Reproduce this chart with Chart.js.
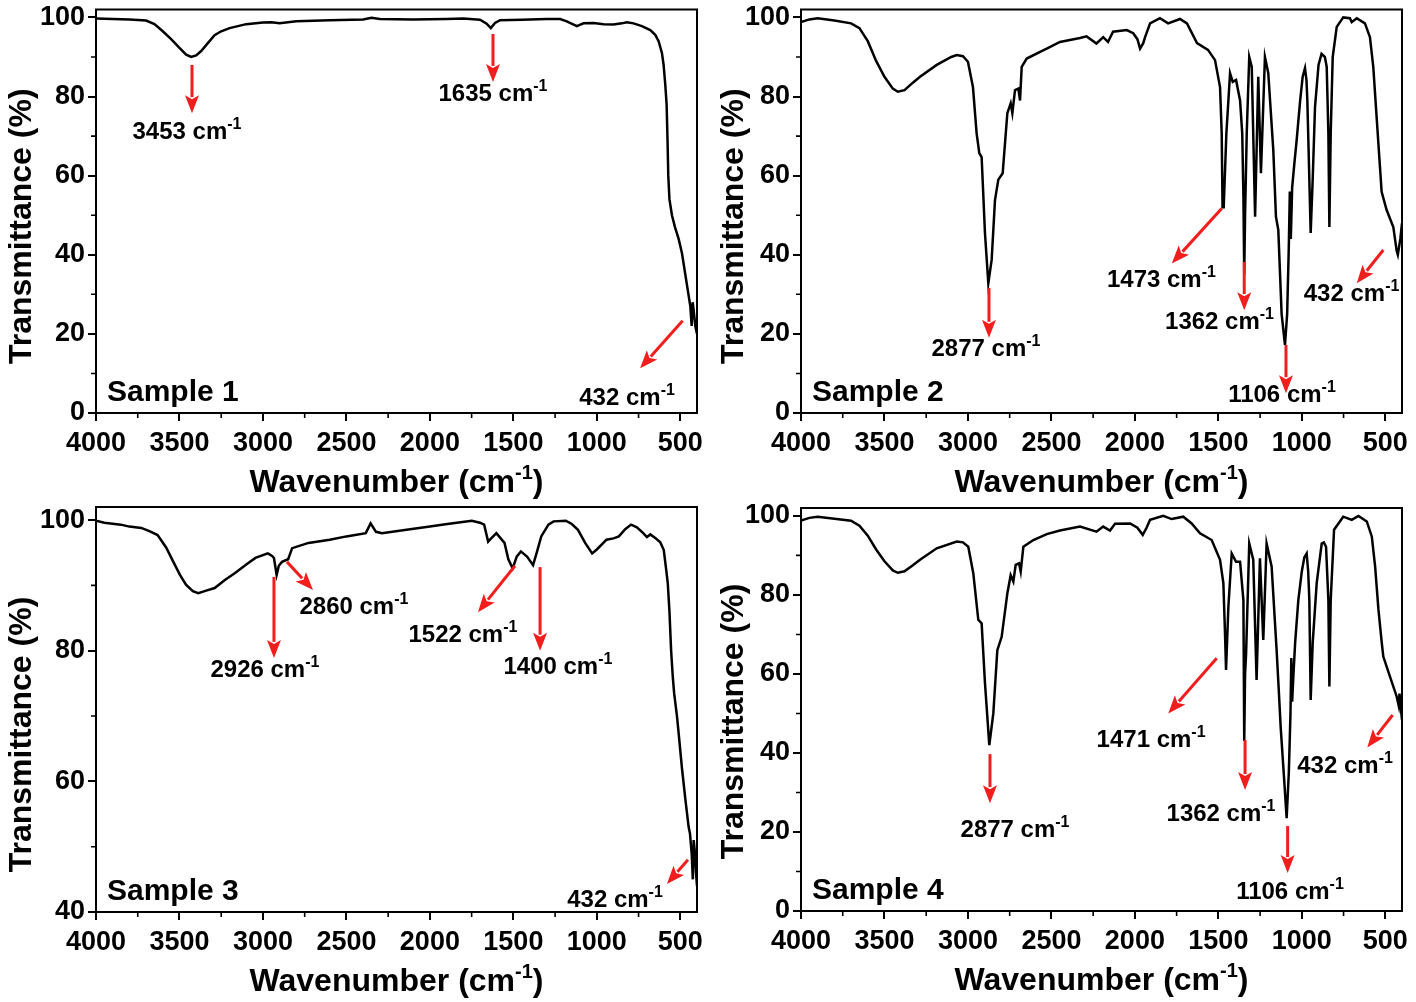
<!DOCTYPE html>
<html>
<head>
<meta charset="utf-8">
<script src="https://cdn.jsdelivr.net/npm/chart.js@4.4.1/dist/chart.umd.min.js"></script>
<style>
html,body{margin:0;padding:0;background:#fff;width:1416px;height:1002px;overflow:hidden}
.p{position:absolute;width:708px;height:501px}
canvas{display:block}
</style>
</head>
<body>
<div class="p" style="left:0;top:0"><canvas id="c1" width="708" height="501"></canvas></div>
<div class="p" style="left:708px;top:0"><canvas id="c2" width="708" height="501"></canvas></div>
<div class="p" style="left:0;top:501px"><canvas id="c3" width="708" height="501"></canvas></div>
<div class="p" style="left:708px;top:501px"><canvas id="c4" width="708" height="501"></canvas></div>
<script>
// ---------------- DATA ----------------
const xMajorTicks = [500,1000,1500,2000,2500,3000,3500,4000];
const xMinorTicks = [750,1250,1750,2250,2750,3250,3750];
const yMajorTicksFull = [0,20,40,60,80,100];
const yMinorTicksFull = [10,30,50,70,90];
const yMajorTicksS3 = [40,60,80,100];
const yMinorTicksS3 = [50,70,90];

const sample1Wavenumber = [4000,3900,3800,3700,3650,3600,3550,3500,3460,3430,3400,3370,3330,3290,3250,3200,3100,3000,2950,2900,2800,2600,2400,2350,2300,2100,1900,1800,1700,1660,1635,1610,1580,1450,1300,1220,1180,1120,1080,1020,960,900,850,820,780,730,680,650,630,610,600,590,582,576,572,565,550,532,510,490,470,455,440,432,426,420,410,400];
const sample1Transmittance = [99.7,99.6,99.5,99.2,98.3,96.5,94.5,92.3,90.6,90.0,90.4,91.5,93.5,95.5,96.5,97.3,98.3,98.7,98.8,98.5,99.0,99.3,99.5,99.9,99.6,99.5,99.6,99.7,99.4,98.4,97.3,98.6,99.3,99.4,99.6,99.6,99.0,97.8,98.5,98.6,98.3,98.2,98.5,98.8,98.5,97.8,96.8,95.6,94.0,91.0,88.0,83.0,78.0,68.0,60.0,54.0,50.0,47.0,44.0,40.4,35.0,31.0,27.0,22.0,28.0,26.0,22.0,20.0];

const sample2Wavenumber = [4000,3950,3900,3800,3700,3650,3600,3550,3500,3450,3420,3380,3330,3287,3187,3100,3067,3030,3000,2970,2948,2932,2918,2898,2878,2858,2838,2818,2792,2764,2744,2734,2718,2698,2688,2678,2648,2568,2528,2449,2329,2289,2230,2190,2161,2131,2049,2010,1985,1969,1950,1939,1909,1850,1801,1730,1688,1628,1562,1520,1490,1480,1475,1468,1452,1430,1414,1394,1370,1357,1350,1345,1340,1330,1315,1300,1280,1261,1245,1221,1201,1171,1155,1141,1121,1101,1088,1078,1072,1066,1058,1045,1031,1010,995,981,972,967,955,947,935,921,900,882,862,851,841,835,827,815,791,752,712,701,671,622,592,572,552,532,522,492,452,432,425,410,400];
const sample2Transmittance = [98.8,99.5,99.8,99.2,98.5,97.3,94.0,89.0,85.0,82.0,81.2,81.6,83.5,85.0,88.0,90.0,90.5,90.2,88.8,82.4,70.7,65.7,64.7,45.5,32.8,38.7,53.8,59.0,60.6,75.8,78.3,75.8,81.6,82.0,79.0,87.5,89.6,91.3,92.1,93.8,94.8,95.2,93.4,95.0,93.8,96.4,96.8,96.0,94.5,92.1,93.5,95.0,98.5,99.8,98.5,99.6,98.5,93.5,91.8,89.2,82.4,70.7,52.0,52.0,70.7,85.9,83.7,84.2,79.0,70.7,55.0,35.0,50.0,70.7,90.0,87.5,49.6,85.0,60.6,90.0,85.9,66.5,49.6,46.3,25.0,17.2,25.0,42.0,56.0,44.0,57.0,63.0,69.0,79.0,85.0,87.2,84.0,79.0,59.0,45.5,59.0,77.4,88.0,90.8,90.0,87.5,70.7,47.0,70.7,90.0,97.6,100.0,99.8,98.8,99.8,98.5,95.0,87.5,74.8,62.2,55.9,51.3,47.0,41.0,40.0,44.0,48.0];

const sample3Wavenumber = [4000,3950,3851,3800,3729,3680,3631,3580,3533,3497,3461,3420,3387,3340,3289,3230,3167,3100,3045,2971,2945,2934,2918,2905,2886,2849,2825,2727,2600,2500,2384,2355,2323,2287,2140,2000,1896,1749,1700,1675,1651,1640,1602,1553,1530,1504,1480,1455,1418,1382,1360,1333,1290,1259,1186,1150,1113,1070,1028,1000,942,900,868,830,795,760,722,700,680,648,620,599,585,575,565,555,545,537,520,510,490,469,450,442,432,425,420,412,406,400];
const sample3Transmittance = [99.9,99.6,99.3,99.0,98.8,98.3,97.7,95.8,93.4,91.6,90.1,89.1,88.8,89.2,89.6,90.8,91.9,93.2,94.2,94.9,94.5,94.2,91.6,93.0,93.6,94.0,95.7,96.5,97.0,97.5,98.0,99.5,98.2,98.0,98.5,99.0,99.4,99.9,99.6,99.3,96.7,97.0,98.0,96.5,94.0,92.6,94.4,95.2,94.4,93.1,95.0,97.5,99.3,99.8,99.9,99.4,98.5,96.5,94.9,95.5,97.0,97.2,97.5,98.6,99.3,98.9,98.0,97.4,97.8,97.2,96.6,95.4,92.5,90.3,86.0,80.0,76.0,73.5,70.0,67.4,62.0,57.1,53.0,52.0,49.0,45.0,51.0,49.0,46.0,44.0];

const sample4Wavenumber = [4000,3950,3900,3800,3700,3650,3600,3550,3500,3450,3420,3380,3330,3287,3187,3067,3030,2998,2968,2938,2918,2898,2872,2848,2824,2798,2764,2744,2728,2714,2694,2684,2668,2608,2528,2449,2329,2230,2190,2149,2119,2029,1985,1953,1930,1909,1830,1780,1710,1660,1610,1540,1490,1470,1460,1454,1440,1420,1394,1370,1350,1345,1340,1334,1315,1291,1271,1251,1231,1211,1181,1151,1137,1127,1107,1091,1078,1068,1063,1058,1050,1040,1021,1000,985,971,962,955,947,935,911,881,868,855,841,835,827,807,752,701,661,611,581,561,541,521,512,472,432,420,415,408,400];
const sample4Transmittance = [98.8,99.5,99.8,99.3,98.8,97.5,95.0,91.5,88.5,86.2,85.6,86.0,87.5,88.9,91.8,93.5,93.3,92.2,85.5,73.7,72.8,57.7,42.0,50.0,66.0,69.4,80.4,85.0,83.4,87.6,88.0,85.9,92.2,93.9,95.4,96.3,97.3,96.0,97.3,96.3,98.0,98.1,97.0,95.2,97.0,99.0,100.0,99.2,99.8,98.1,95.6,93.9,88.9,83.0,70.0,61.0,77.0,90.5,88.4,88.4,78.7,43.0,60.0,65.0,93.0,88.9,58.5,89.3,68.6,93.0,87.2,66.0,55.0,46.7,34.0,23.5,35.0,50.0,64.0,53.0,60.0,68.0,78.7,86.0,89.5,90.5,86.0,78.7,53.4,67.8,83.0,93.0,93.3,92.2,78.7,56.8,78.7,96.5,99.8,99.0,100.0,98.6,94.8,87.2,76.2,67.8,64.4,59.3,54.3,52.0,55.0,51.7,48.4];

// peak annotations: arrow tail (x0,y0) -> head (x1,y1), label centre (lx,ly), in data units
const peaks1 = [
  {label:'3453', x0:3425, y0:88.0, x1:3425, y1:75.8, lx:3455, ly:71.5},
  {label:'1635', x0:1622, y0:95.8, x1:1622, y1:83.7, lx:1622, ly:81.1},
  {label:'432',  x0:486,  y0:23.3, x1:741,  y1:11.3, lx:819,  ly:4.3}
];
const peaks2 = [
  {label:'2877', x0:2874, y0:31.6, x1:2874, y1:19.0, lx:2892, ly:16.7},
  {label:'1473', x0:1480, y0:51.7, x1:1779, y1:37.8, lx:1841, ly:34.1},
  {label:'1362', x0:1345, y0:38.2, x1:1345, y1:26.0, lx:1493, ly:23.5},
  {label:'1106', x0:1095, y0:17.2, x1:1095, y1:5.0,  lx:1119, ly:5.1},
  {label:'432',  x0:512,  y0:41.2, x1:671,  y1:32.8, lx:702,  ly:30.6}
];
const peaks3 = [
  {label:'2926', x0:2934, y0:91.3, x1:2934, y1:78.9, lx:2988, ly:77.4},
  {label:'2860', x0:2856, y0:93.6, x1:2700, y1:89.3, lx:2455, ly:87.0},
  {label:'1522', x0:1490, y0:93.0, x1:1712, y1:85.9, lx:1802, ly:82.7},
  {label:'1400', x0:1340, y0:92.8, x1:1340, y1:80.0, lx:1233, ly:77.8},
  {label:'432',  x0:454,  y0:48.0, x1:580,  y1:44.3, lx:891,  ly:42.1}
];
const peaks4 = [
  {label:'2877', x0:2868, y0:39.7, x1:2868, y1:27.3, lx:2718, ly:21.0},
  {label:'1471', x0:1510, y0:64.0, x1:1800, y1:50.0, lx:1903, ly:43.8},
  {label:'1362', x0:1340, y0:43.3, x1:1340, y1:30.6, lx:1484, ly:25.1},
  {label:'1106', x0:1085, y0:21.5, x1:1085, y1:9.6,  lx:1071, ly:5.3},
  {label:'432',  x0:456,  y0:49.6, x1:608,  y1:41.4, lx:741,  ly:37.2}
];

// ---------------- DRAWING ----------------
const FONT = '"Liberation Sans", Arial, Helvetica, sans-serif';
const RED = '#f21d1d';

function supText(ctx, main, sup, tail, x, y, size, supSize, align) {
  ctx.font = 'bold ' + size + 'px ' + FONT;
  const w1 = ctx.measureText(main).width;
  const w3 = tail ? ctx.measureText(tail).width : 0;
  ctx.font = 'bold ' + supSize + 'px ' + FONT;
  const w2 = ctx.measureText(sup).width;
  const total = w1 + w2 + w3;
  let sx = align === 'center' ? x - total / 2 : x;
  ctx.textAlign = 'left';
  ctx.textBaseline = 'alphabetic';
  ctx.font = 'bold ' + size + 'px ' + FONT;
  ctx.fillText(main, sx, y);
  ctx.font = 'bold ' + supSize + 'px ' + FONT;
  ctx.fillText(sup, sx + w1, y - size * 0.42);
  if (tail) {
    ctx.font = 'bold ' + size + 'px ' + FONT;
    ctx.fillText(tail, sx + w1 + w2, y);
  }
}

function arrow(ctx, x0, y0, x1, y1) {
  const dx = x1 - x0, dy = y1 - y0, len = Math.hypot(dx, dy);
  const ux = dx / len, uy = dy / len;
  const hl = 18, hw = 7;
  const bx = x1 - ux * hl, by = y1 - uy * hl;
  ctx.strokeStyle = RED; ctx.fillStyle = RED; ctx.lineWidth = 3; ctx.lineCap = 'butt';
  ctx.beginPath(); ctx.moveTo(x0, y0); ctx.lineTo(bx + ux * 2, by + uy * 2); ctx.stroke();
  ctx.beginPath();
  ctx.moveTo(x1, y1);
  ctx.lineTo(bx - uy * hw, by + ux * hw);
  ctx.lineTo(bx + ux * 4, by + uy * 4);
  ctx.lineTo(bx + uy * hw, by - ux * hw);
  ctx.closePath(); ctx.fill();
}

function makePlugin(cfg) {
  return {
    id: 'ftir_' + cfg.id,
    afterDraw(chart) {
      const ctx = chart.ctx, a = chart.chartArea, xs = chart.scales.x, ys = chart.scales.y;
      ctx.save();
      // frame
      ctx.strokeStyle = '#000'; ctx.lineWidth = 2;
      ctx.strokeRect(a.left, a.top, a.right - a.left, a.bottom - a.top);
      // minor ticks
      ctx.lineWidth = 1.6;
      ctx.beginPath();
      xMinorTicks.forEach(v => { const px = xs.getPixelForValue(v); ctx.moveTo(px, a.bottom); ctx.lineTo(px, a.bottom + 5); });
      cfg.yMinor.forEach(v => { const py = ys.getPixelForValue(v); ctx.moveTo(a.left, py); ctx.lineTo(a.left - 5, py); });
      ctx.stroke();
      // axis titles
      ctx.fillStyle = '#000';
      supText(ctx, 'Wavenumber (cm', '-1', ')', (a.left + a.right) / 2, a.bottom + 79, 32, 20, 'center');
      ctx.save();
      ctx.translate(cfg.titleX, (a.top + a.bottom) / 2 + cfg.titleDy);
      ctx.rotate(-Math.PI / 2);
      ctx.font = 'bold 32px ' + FONT;
      ctx.textAlign = 'center'; ctx.textBaseline = 'middle';
      ctx.fillText('Transmittance (%)', 0, 0);
      ctx.restore();
      // sample label
      ctx.font = 'bold 30px ' + FONT;
      ctx.textAlign = 'left'; ctx.textBaseline = 'alphabetic';
      ctx.fillText(cfg.sample, a.left + 11, a.bottom - 12);
      // peaks
      cfg.peaks.forEach(p => {
        arrow(ctx, xs.getPixelForValue(p.x0), ys.getPixelForValue(p.y0), xs.getPixelForValue(p.x1), ys.getPixelForValue(p.y1));
      });
      ctx.fillStyle = '#000';
      cfg.peaks.forEach(p => {
        supText(ctx, p.label + ' cm', '-1', '', xs.getPixelForValue(p.lx), ys.getPixelForValue(p.ly) + 9, 24, 16, 'center');
      });
      ctx.restore();
    }
  };
}

function makeChart(cfg, wn, tr) {
  const tickFont = {family: FONT, size: 27, weight: 'bold'};
  return new Chart(document.getElementById(cfg.id), {
    type: 'line',
    data: {datasets: [{data: wn.map((w, i) => ({x: w, y: tr[i]})), borderColor: '#000', borderWidth: 2.5, pointRadius: 0, tension: 0, fill: false}]},
    options: {
      responsive: false, animation: false, devicePixelRatio: 1,
      layout: {padding: {top: cfg.top, right: cfg.right, left: 0, bottom: 0}},
      plugins: {legend: {display: false}, tooltip: {enabled: false}},
      scales: {
        x: {
          type: 'linear', reverse: true, min: 400, max: 4000,
          afterBuildTicks: s => { s.ticks = xMajorTicks.map(v => ({value: v})); },
          afterFit: s => { s.height = cfg.xAxisH; s.paddingLeft = 0; s.paddingRight = 0; },
          grid: {display: true, drawOnChartArea: false, drawTicks: true, tickLength: 8, color: '#000', lineWidth: 2},
          border: {display: true, color: '#000', width: 2},
          ticks: {font: tickFont, color: '#000', padding: 6, maxRotation: 0, autoSkip: false, callback: v => String(v)}
        },
        y: {
          type: 'linear', min: cfg.ymin, max: 102,
          afterBuildTicks: s => { s.ticks = cfg.yMajor.map(v => ({value: v})); },
          afterFit: s => { s.width = cfg.yAxisW; s.paddingTop = 0; s.paddingBottom = 0; },
          grid: {display: true, drawOnChartArea: false, drawTicks: true, tickLength: 8, color: '#000', lineWidth: 2},
          border: {display: true, color: '#000', width: 2},
          ticks: {font: tickFont, color: '#000', padding: 3, autoSkip: false, callback: v => String(v)}
        }
      }
    },
    plugins: [makePlugin(cfg)]
  });
}

makeChart({id: 'c1', sample: 'Sample 1', peaks: peaks1, top: 9.5, right: 11, xAxisH: 88, yAxisW: 96, ymin: 0, yMajor: yMajorTicksFull, yMinor: yMinorTicksFull, titleX: 22, titleDy: 15}, sample1Wavenumber, sample1Transmittance);
makeChart({id: 'c2', sample: 'Sample 2', peaks: peaks2, top: 9.5, right: 14, xAxisH: 88, yAxisW: 93, ymin: 0, yMajor: yMajorTicksFull, yMinor: yMinorTicksFull, titleX: 26, titleDy: 15}, sample2Wavenumber, sample2Transmittance);
makeChart({id: 'c3', sample: 'Sample 3', peaks: peaks3, top: 6, right: 11, xAxisH: 90, yAxisW: 96, ymin: 40, yMajor: yMajorTicksS3, yMinor: yMinorTicksS3, titleX: 22, titleDy: 25}, sample3Wavenumber, sample3Transmittance);
makeChart({id: 'c4', sample: 'Sample 4', peaks: peaks4, top: 7, right: 14, xAxisH: 91, yAxisW: 93, ymin: 0, yMajor: yMajorTicksFull, yMinor: yMinorTicksFull, titleX: 26, titleDy: 12}, sample4Wavenumber, sample4Transmittance);
</script>
</body>
</html>
